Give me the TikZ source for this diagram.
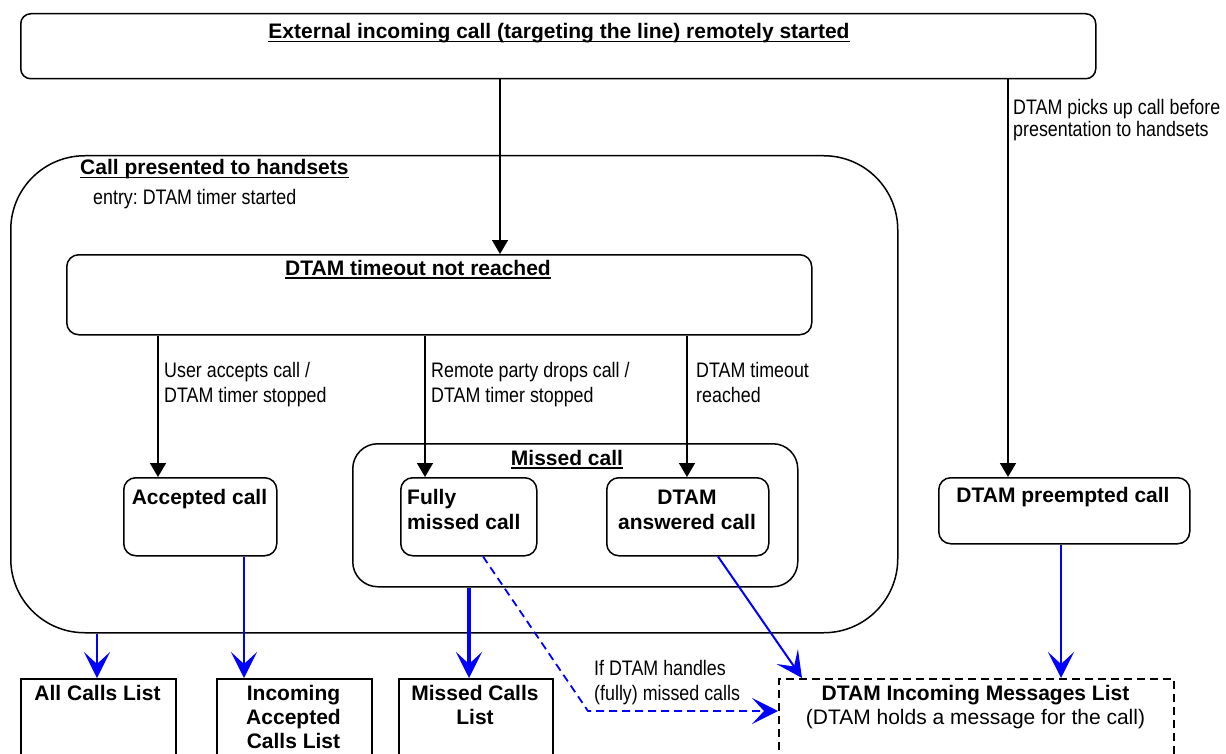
\documentclass[tikz,border=0pt]{standalone}
\usepackage{fontspec}
\setmainfont{Liberation Sans}
\newfontfamily\narrowfont{Liberation Sans}[FakeStretch=0.85]
\usetikzlibrary{arrows.meta}
\frenchspacing
\newcommand{\myul}[1]{\setbox0\hbox{#1}\rlap{\rule[-3.5pt]{\wd0}{1.6pt}}\box0}
\tikzset{
  sbox/.style={draw, line width=1.5pt, rounded corners=#1, inner sep=0pt, anchor=north west},
  lbox/.style={draw, line width=1.5pt, inner sep=0pt, anchor=north west},
  btxt/.style={font=\fontsize{21}{25}\selectfont\bfseries, inner sep=0pt, anchor=base},
  btxtl/.style={font=\fontsize{21}{25}\selectfont\bfseries, inner sep=0pt, anchor=base west},
  ntxt/.style={font=\fontsize{21}{25}\selectfont\narrowfont, inner sep=0pt, anchor=base west},
  rtxt/.style={font=\fontsize{21}{25}\selectfont, inner sep=0pt, anchor=base},
  blk/.style={line width=1.6pt, -{Triangle[length=14pt,width=16pt]}},
  blu/.style={line width=2pt, draw={rgb,255:red,0;green,0;blue,255}, -{Stealth[length=26pt,width=26pt,inset=12pt]}, color={rgb,255:red,0;green,0;blue,255}},
}
\begin{document}
\begin{tikzpicture}[x=1pt,y=-1pt]
\useasboundingbox (0,0) rectangle (1226,754);
\fill[white] (0,0) rectangle (1226,754);
\clip (0,0) rectangle (1226,754);

% coordinates used for connector x positions
\coordinate (x97) at (97,0);
\coordinate (x158) at (158,0);
\coordinate (x244) at (244,0);
\coordinate (x425) at (425,0);
\coordinate (x469) at (469,0);
\coordinate (x483) at (483,0);
\coordinate (x500) at (500,0);
\coordinate (x687) at (687,0);
\coordinate (x718) at (718,0);
\coordinate (x802) at (802,0);
\coordinate (x1008) at (1008,0);
\coordinate (x1061) at (1061,0);
\coordinate (bend) at (588,711);

% boxes
\node[sbox=10pt, minimum width=1075pt, minimum height=65pt] (top) at (20,13) {};
\node[sbox=74pt, minimum width=887pt, minimum height=477pt] (big) at (10,155) {};
\node[sbox=12pt, minimum width=745pt, minimum height=80pt] (dtam) at (66,254) {};
\node[sbox=12pt, minimum width=153pt, minimum height=78pt] (acc) at (123,477) {};
\node[sbox=25pt, minimum width=445pt, minimum height=143pt] (missed) at (352,443) {};
\node[sbox=12pt, minimum width=136pt, minimum height=78pt] (fully) at (400,477) {};
\node[sbox=12pt, minimum width=162pt, minimum height=78pt] (ans) at (606,477) {};
\node[sbox=12pt, minimum width=251pt, minimum height=66pt] (pre) at (938,477) {};
\node[lbox, minimum width=155pt, minimum height=122pt] (all) at (20,678) {};
\node[lbox, minimum width=155pt, minimum height=122pt] (inc) at (216,678) {};
\node[lbox, minimum width=154pt, minimum height=122pt] (mcl) at (398,678) {};
\node[lbox, dash pattern=on 8pt off 5pt, minimum width=395pt, minimum height=122pt] (msg) at (778,678) {};

% texts
\node[btxt] (ttop) at (559,39) {\myul{External incoming call (targeting the line) remotely started}};
\node[btxtl] (tbig) at (80,175) {\myul{Call presented to handsets}};
\node[ntxt] (tentry) at (93,205) {entry: DTAM timer started};
\node[btxtl] (tdtam) at (285,275) {\myul{DTAM timeout not reached}};
\node[btxt] (tmissed) at (567,465) {\myul{Missed call}};
\node[btxt] (tacc) at (199.5,504) {Accepted call};
\node[btxtl] (tfully1) at (407,504) {Fully};
\node[btxtl] (tfully2) at (407,529) {missed call};
\node[btxt] (tans1) at (687,504) {DTAM};
\node[btxt] (tans2) at (687,529) {answered call};
\node[btxt] (tpre) at (1063,502) {DTAM preempted call};
\node[btxt] (tall) at (97.5,700) {All Calls List};
\node[btxt] (tinc1) at (293.5,700) {Incoming};
\node[btxt] (tinc2) at (293.5,724) {Accepted};
\node[btxt] (tinc3) at (293.5,748) {Calls List};
\node[btxt] (tmcl1) at (475,700) {Missed Calls};
\node[btxt] (tmcl2) at (475,724) {List};
\node[btxt] (tmsg1) at (975.5,700) {DTAM Incoming Messages List};
\node[rtxt] (tmsg2) at (975.5,724) {(DTAM holds a message for the call)};

% transition labels
\node[ntxt] (l1a) at (164,377) {User accepts call /};
\node[ntxt] (l1b) at (164,402) {DTAM timer stopped};
\node[ntxt] (l2a) at (431,377) {Remote party drops call /};
\node[ntxt] (l2b) at (431,402) {DTAM timer stopped};
\node[ntxt] (l3a) at (696,377) {DTAM timeout};
\node[ntxt] (l3b) at (696,402) {reached};
\node[ntxt] (l4a) at (1013,115) {DTAM picks up call before};
\node[ntxt] (l4b) at (1013,137) {presentation to handsets};
\node[ntxt] (l5a) at (594,675) {If DTAM handles};
\node[ntxt] (l5b) at (594,700) {(fully) missed calls};

% black connectors
\draw[blk] (top.south -| x500) -- (dtam.north -| x500);
\draw[blk] (top.south -| x1008) -- (pre.north -| x1008);
\draw[blk] (dtam.south -| x158) -- (acc.north -| x158);
\draw[blk] (dtam.south -| x425) -- (fully.north -| x425);
\draw[blk] (dtam.south -| x687) -- (ans.north -| x687);

% blue connectors
\draw[blu] (big.south -| x97) -- (all.north -| x97);
\draw[blu] (acc.south -| x244) -- (inc.north -| x244);
\draw[blu, line width=3.5pt] (missed.south -| x469) -- (mcl.north -| x469);
\draw[blu] (ans.south -| x718) -- (msg.north -| x802);
\draw[blu] (pre.south -| x1061) -- (msg.north -| x1061);
\draw[blu, line width=1.8pt, dash pattern=on 8pt off 5pt] (fully.south -| x483) -- (bend) -- (bend -| msg.west);
\end{tikzpicture}
\end{document}
